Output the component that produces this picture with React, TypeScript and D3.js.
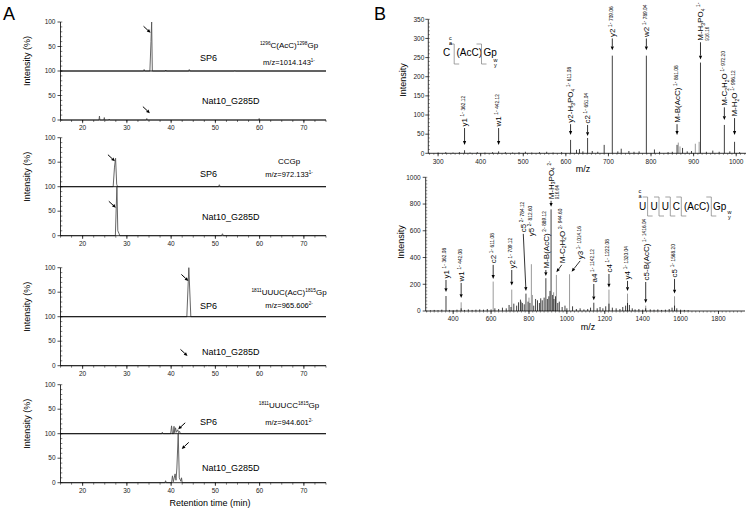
import React from 'react';
import * as d3 from 'd3';

const FONT = "'Liberation Sans', Arial, Helvetica, sans-serif";

// ================= Panel A data =================
const rtTicks = [20, 30, 40, 50, 60, 70];
const compoundLabels = ['^{1296}C(AcC)^{1298}Gp', 'CCGp', '^{1811}UUUC(AcC)^{1815}Gp', '^{1811}UUUCC^{1815}Gp'];
const mzLabels = ['m/z=1014.143^{1-}', 'm/z=972.133^{1-}', 'm/z=965.606^{2-}', 'm/z=944.601^{2-}'];
const upperSample = 'SP6';
const lowerSample = 'Nat10_G285D';

const sp6Trace1: [number, number][] = [[15, 0], [33.8, 0], [33.9, 3], [34.0, 0], [35.2, 0], [35.45, 60], [35.6, 100], [35.75, 0], [38.7, 0], [38.8, 2], [38.9, 0], [44.0, 0], [44.1, 3], [44.3, 0], [54.3, 0], [54.4, 1], [54.5, 0], [75, 0]];
const nat10Trace1: [number, number][] = [[15, 0], [23.7, 0], [23.8, 8], [23.9, 0], [24.8, 0], [24.9, 5], [25.0, 0], [25.9, 0], [26.0, 2], [26.1, 0], [34.4, 0], [34.5, 3], [34.6, 0], [59.8, 0], [59.9, 3], [60.0, 0], [75, 0]];
const sp6Trace2: [number, number][] = [[15, 0], [26.9, 0], [27.2, 40], [27.45, 58], [27.7, 5], [27.9, 0], [50.7, 0], [50.9, 4], [51.1, 0], [75, 0]];
const nat10Trace2: [number, number][] = [[15, 0], [27.4, 0], [27.6, 60], [27.75, 100], [27.95, 10], [28.2, 5], [28.4, 0], [51.4, 0], [51.6, 4], [51.8, 0], [75, 0]];
const sp6Trace3: [number, number][] = [[15, 0], [43.55, 0], [44.0, 100], [44.45, 0], [75, 0]];
const nat10Trace3: [number, number][] = [[15, 0], [44.5, 0], [44.6, 1], [44.7, 0], [48.1, 0], [48.2, 1], [48.3, 0], [75, 0]];
const sp6Trace4: [number, number][] = [[15, 0], [37.9, 0], [38.0, 3], [38.2, 0], [39.9, 0], [40.1, 16], [40.3, 0], [40.5, 0], [40.65, 15], [40.8, 2], [41.0, 12], [41.2, 3], [41.5, 8], [41.7, 2], [41.9, 5], [42.1, 0], [75, 0]];
const nat10Trace4: [number, number][] = [[15, 0], [38.6, 0], [38.75, 4], [38.9, 0], [40.1, 0], [40.3, 14], [40.5, 2], [40.9, 18], [41.1, 5], [41.3, 30], [41.6, 100], [41.85, 10], [42.2, 3], [42.35, 10], [42.5, 0], [75, 0]];
const sp6Traces = [sp6Trace1, sp6Trace2, sp6Trace3, sp6Trace4];
const nat10Traces = [nat10Trace1, nat10Trace2, nat10Trace3, nat10Trace4];
// arrow heads: [time, intensity, side (1 from left, -1 from right)]
const sp6Arrows: [number, number, number][] = [[35.35, 78, 1], [27.3, 52, 1], [43.9, 73, 1], [41.6, 9, -1]];
const nat10Arrows: [number, number, number][] = [[35.2, 14, 1], [27.5, 57, 1], [43.7, 20, 1], [42.4, 69, -1]];

// ================= Panel B data =================
const topMzTicks = [300, 400, 500, 600, 700, 800, 900, 1000];
const topIntTicks = [0, 50, 100, 150, 200, 250, 300, 350];
const topBlackPeaks: [number, number][] = [
  [300, 2], [318, 3], [335, 2], [350, 3], [362.12, 8], [375, 2], [392, 3], [410, 2], [428, 3], [442.12, 5], [458, 3], [475, 2], [490, 3], [505, 4], [520, 2], [538, 3], [555, 4], [570, 2], [590, 3],
  [611.08, 35], [625, 9], [632, 11], [640, 5], [651.04, 40], [662, 6], [675, 4], [690, 22], [709.06, 255], [722, 5], [730, 12], [748, 6], [760, 4], [772, 5],
  [789.04, 255], [808, 10], [820, 4], [840, 3], [850, 4], [861.08, 22], [874, 14], [885, 5], [895, 6], [916.16, 237], [930, 4], [945, 7], [960, 4], [972.2, 74], [985, 5], [996.12, 30], [1008, 3],
];
const topGrayPeaks: [number, number][] = [[864, 28], [868, 18], [904, 25], [913, 30]];
const topAnnotations = [
  { label: 'y1', z: '1-', mz: 362.12, tail: 66, head: 22 },
  { label: 'w1', z: '1-', mz: 442.12, tail: 66, head: 22 },
  { label: 'y2-H_{3}PO_{4}', z: '1-', mz: 611.08, tail: 76, head: 48 },
  { label: 'c2', z: '1-', mz: 651.04, tail: 74, head: 45 },
  { label: 'y2', z: '1-', mz: 709.06, tail: 300, head: 269 },
  { label: 'w2', z: '1-', mz: 789.04, tail: 300, head: 269 },
  { label: 'M-B(AcC)', z: '1-', mz: 861.08, tail: 76, head: 48 },
  { label: 'M-H_{3}PO_{4}', z: '1-', mz: 916.16, tail: 290, head: 245, line2: true },
  { label: 'M-C_{2}H_{2}O', z: '1-', mz: 972.2, tail: 120, head: 87 },
  { label: 'M-H_{2}O', z: '1-', mz: 996.12, tail: 92, head: 48 },
];

const botMzTicks = [400, 600, 800, 1000, 1200, 1400, 1600, 1800];
const botIntTicks = [0, 200, 400, 600, 800, 1000];
const botBlackPeaks: [number, number][] = [
  [280, 5], [300, 8], [320, 6], [340, 10], [362.08, 112], [380, 8], [400, 6], [420, 10], [442.08, 20], [460, 8], [480, 12], [500, 8], [520, 10], [540, 12], [560, 10], [580, 15], [600, 12],
  [620, 20], [640, 15], [660, 25], [680, 20], [695, 45], [705, 30], [720, 55], [735, 40], [745, 65], [755, 85], [765, 60], [775, 50], [784.12, 130], [795, 70], [805, 60], [825, 40],
  [835, 90], [845, 80], [855, 60], [862, 95], [870, 80], [880, 100], [889.12, 245], [897, 90], [905, 110], [911, 150], [916.64, 760], [925, 120], [932, 90], [940, 110], [952, 60],
  [960, 70], [975, 30], [990, 40], [1000, 20], [1030, 35], [1050, 15], [1070, 20], [1090, 12], [1110, 15], [1125, 25], [1142.12, 62], [1160, 20], [1175, 30], [1190, 20], [1205, 35],
  [1222.08, 55], [1240, 25], [1260, 20], [1280, 15], [1295, 30], [1310, 40], [1320.04, 60], [1330, 45], [1345, 20], [1360, 12], [1380, 15], [1400, 10], [1416.04, 20], [1440, 12],
  [1460, 10], [1480, 12], [1500, 8], [1520, 10], [1540, 15], [1555, 25], [1568.2, 40], [1580, 20], [1600, 10], [1620, 8], [1640, 6],
];
const botGrayPeaks: [number, number][] = [
  [442.08, 65], [611.08, 220], [709.12, 160], [760, 70], [800, 100], [812.6, 350], [818, 120], [930, 140], [944.6, 270], [1014.16, 275], [1222.08, 160], [1320.04, 130], [1416.04, 40], [1568.2, 110],
];
const botAnnotations = [
  { label: 'y1', z: '1-', mz: 362.08, tail: 232, head: 142 },
  { label: 'w1', z: '1-', mz: 442.08, tail: 210, head: 97 },
  { label: 'c2', z: '1-', mz: 611.08, tail: 345, head: 240 },
  { label: 'y2', z: '1-', mz: 709.12, tail: 307, head: 190 },
  { label: 'c5', z: '2-', mz: 784.12, tail: 577, head: 150, at: 770 },
  { label: 'y5', z: '2-', mz: 812.6, tail: 547, head: null as number | null },
  { label: 'M-B(AcC)', z: '2-', mz: 889.12, tail: 307, head: 262 },
  { label: 'M-H_{3}PO_{4}', z: '2-', mz: 916.64, tail: 824, head: 779, line2: true },
  { label: 'M-C_{2}H_{2}O', z: '2-', mz: 944.6, tail: 345, head: 290, at: 973 },
  { label: 'y3', z: '1-', mz: 1014.16, tail: 375, head: 294, at: 1070, headAt: 1025 },
  { label: 'a4', z: '1-', mz: 1142.12, tail: 202, head: 80 },
  { label: 'c4', z: '1-', mz: 1222.08, tail: 277, head: 175 },
  { label: 'y4', z: '1-', mz: 1320.04, tail: 225, head: 150 },
  { label: 'c5-B(AcC)', z: '1-', mz: 1416.04, tail: 217, head: 60 },
  { label: 'c5', z: '1-', mz: 1568.2, tail: 240, head: 130 },
];
const topResidues = ['C', '(AcC)', 'Gp'];
const botResidues = ['U', 'U', 'U', 'C', '(AcC)', 'Gp'];

// ================= helpers =================
function rich(text: string, fs: number) {
  const re = /([\^_~])\{([^}]*)\}|([^\^_~]+)/g;
  const out: any[] = [];
  let shift = 0;
  let m: RegExpExecArray | null;
  let k = 0;
  while ((m = re.exec(text)) !== null) {
    let target = 0, size = fs, content = m[3];
    if (m[1]) {
      content = m[2];
      if (m[1] === '^') { target = -fs * 0.38; size = fs * 0.6; }
      else if (m[1] === '_') { target = fs * 0.18; size = fs * 0.62; }
      else { target = -fs * 0.3; size = fs * 0.6; }
    }
    out.push(<tspan key={k++} dy={target - shift} fontSize={size}>{content}</tspan>);
    shift = target;
  }
  return out;
}

function Arrow({ x1, y1, x2, y2, len = 4, w = 3.2, sw = 0.9 }: any) {
  const dx = x2 - x1, dy = y2 - y1, L = Math.hypot(dx, dy) || 1;
  const ux = dx / L, uy = dy / L;
  const bx = x2 - ux * len, by = y2 - uy * len;
  const px = -uy, py = ux;
  return (
    <g>
      <line x1={x1} y1={y1} x2={bx} y2={by} stroke="#000" strokeWidth={sw} />
      <polygon points={`${x2},${y2} ${bx + (px * w) / 2},${by + (py * w) / 2} ${bx - (px * w) / 2},${by - (py * w) / 2}`} fill="#000" />
    </g>
  );
}

// ================= Panel A =================
const subTops = [22, 137.7, 267.7, 384.7];
const half = 49;
const compY = [23, 23, 24.3, 20.3];
const sp6Y = [36, 36.3, 38, 37];
const mzY = [40, 36.3, 38, 37.3];
const natY = [79, 79, 84, 83];

function SubPanel({ i }: { i: number }) {
  const T = subTops[i], M = T + half, Bt = T + 2 * half;
  const x = d3.scaleLinear().domain([15, 75]).range([60.5, 326]);
  const yUp = d3.scaleLinear().domain([0, 100]).range([M, T]);
  const yLo = d3.scaleLinear().domain([0, 100]).range([Bt, M]);
  const lineUp = d3.line<[number, number]>().x(d => x(d[0])).y(d => yUp(d[1]));
  const lineLo = d3.line<[number, number]>().x(d => x(d[0])).y(d => yLo(d[1]));
  const minorX = d3.range(15, 75.01, 2.5);
  const minorY = d3.range(0, 100.01, 10);
  const ax0 = x.range()[0], ax1 = x.range()[1];
  const fsT = 6.5;
  const a1 = sp6Arrows[i], a2 = nat10Arrows[i];
  const arr = (a: [number, number, number], ys: any) => {
    const hx = x(a[0]), hy = ys(a[1]);
    return <Arrow x1={hx - a[2] * 7} y1={hy - 6.5} x2={hx} y2={hy} len={3.6} w={3.4} sw={1} />;
  };
  return (
    <g>
      <path d={lineUp(sp6Traces[i]) || ''} fill="none" stroke="#555" strokeWidth={0.9} />
      <path d={lineLo(nat10Traces[i]) || ''} fill="none" stroke="#555" strokeWidth={0.9} />
      <line x1={ax0} x2={ax0} y1={T} y2={Bt} stroke="#000" strokeWidth={0.8} />
      <line x1={ax0} x2={ax1} y1={M} y2={M} stroke="#000" strokeWidth={0.9} />
      <line x1={ax0} x2={ax1} y1={Bt} y2={Bt} stroke="#000" strokeWidth={0.8} />
      {minorY.map(v => (
        <g key={'my' + v}>
          <line x1={ax0} x2={ax0 + 1.8} y1={yUp(v)} y2={yUp(v)} stroke="#000" strokeWidth={0.5} />
          <line x1={ax0} x2={ax0 + 1.8} y1={yLo(v)} y2={yLo(v)} stroke="#000" strokeWidth={0.5} />
        </g>
      ))}
      {[50, 100].map(v => (
        <g key={'u' + v}>
          <line x1={ax0 - 3} x2={ax0} y1={yUp(v)} y2={yUp(v)} stroke="#000" strokeWidth={0.7} />
          <text x={ax0 - 5} y={yUp(v) + fsT * 0.35} textAnchor="end" fontSize={fsT} fill="#222">{v}</text>
        </g>
      ))}
      {[0, 50, 100].map(v => (
        <g key={'l' + v}>
          <line x1={ax0 - 3} x2={ax0} y1={yLo(v)} y2={yLo(v)} stroke="#000" strokeWidth={0.7} />
          <text x={ax0 - 5} y={yLo(v) + fsT * 0.35} textAnchor="end" fontSize={fsT} fill="#222">{v}</text>
        </g>
      ))}
      {minorX.map(v => (
        <line key={'mx' + v} x1={x(v)} x2={x(v)} y1={Bt} y2={Bt + 2} stroke="#000" strokeWidth={0.5} />
      ))}
      {rtTicks.map(v => (
        <g key={'t' + v}>
          <line x1={x(v)} x2={x(v)} y1={Bt} y2={Bt + 3.2} stroke="#000" strokeWidth={0.7} />
          <text x={x(v)} y={Bt + 8 + fsT * 0.35} textAnchor="middle" fontSize={fsT} fill="#222">{v}</text>
        </g>
      ))}
      <text transform={`translate(${27 + 3.2},${T + 39}) rotate(-90)`} textAnchor="middle" fontSize={9} fill="#000">Intensity (%)</text>
      <text x={289} y={T + compY[i] + 2.8} textAnchor="middle" fontSize={8} fill="#000" style={{ whiteSpace: 'pre' }}>{rich(compoundLabels[i], 8)}</text>
      <text x={289} y={T + mzY[i] + 2.6} textAnchor="middle" fontSize={7.5} fill="#000" style={{ whiteSpace: 'pre' }}>{rich(mzLabels[i], 7.5)}</text>
      <text x={200} y={T + sp6Y[i] + 3.2} fontSize={9} fill="#000">{upperSample}</text>
      <text x={202} y={T + natY[i] + 3.2} fontSize={9} fill="#000">{lowerSample}</text>
      {arr(a1, yUp)}
      {arr(a2, yLo)}
    </g>
  );
}

// ================= Panel B =================
type Ann = { label: string; z: string; mz: number; tail: number; head: number | null; at?: number; headAt?: number; line2?: boolean };

function Spectrum(props: {
  xDomain: [number, number]; xRange: [number, number]; yDomain: [number, number]; yRange: [number, number];
  xTicks: number[]; yTicks: number[]; xMinor: number; yMinor: number;
  black: [number, number][]; gray: [number, number][]; anns: Ann[];
  yLabelPos: [number, number]; mzLabelPos: [number, number]; yLabelGap: number;
}) {
  const x = d3.scaleLinear().domain(props.xDomain).range(props.xRange);
  const y = d3.scaleLinear().domain(props.yDomain).range(props.yRange);
  const [x0, x1] = props.xRange;
  const y0 = props.yRange[0], yTop = props.yRange[1];
  const fsT = 6.5;
  const minorX = d3.range(Math.ceil(props.xDomain[0] / props.xMinor) * props.xMinor, props.xDomain[1], props.xMinor);
  const minorY = d3.range(props.yDomain[0], props.yDomain[1] + 0.01, props.yMinor);
  const fsA = 8;
  return (
    <g>
      {props.gray.map((p, k) => (
        <line key={'g' + k} x1={x(p[0])} x2={x(p[0])} y1={y0} y2={y(p[1])} stroke="#9a9a9a" strokeWidth={1} />
      ))}
      {props.black.map((p, k) => (
        <line key={'b' + k} x1={x(p[0])} x2={x(p[0])} y1={y0} y2={y(p[1])} stroke="#111" strokeWidth={0.8} />
      ))}
      <line x1={x0} x2={x0} y1={y0} y2={yTop} stroke="#000" strokeWidth={0.8} />
      <line x1={x0} x2={x1} y1={y0} y2={y0} stroke="#000" strokeWidth={0.8} />
      {minorY.map(v => (
        <line key={'my' + v} x1={x0} x2={x0 + 1.6} y1={y(v)} y2={y(v)} stroke="#000" strokeWidth={0.4} />
      ))}
      {props.yTicks.map(v => (
        <g key={'yt' + v}>
          <line x1={x0 - 3} x2={x0} y1={y(v)} y2={y(v)} stroke="#000" strokeWidth={0.7} />
          <text x={x0 - props.yLabelGap} y={y(v) + fsT * 0.35} textAnchor="end" fontSize={fsT} fill="#222">{v}</text>
        </g>
      ))}
      {minorX.map(v => (
        <line key={'mx' + v} x1={x(v)} x2={x(v)} y1={y0} y2={y0 + 1.6} stroke="#000" strokeWidth={0.4} />
      ))}
      {props.xTicks.map(v => (
        <g key={'xt' + v}>
          <line x1={x(v)} x2={x(v)} y1={y0} y2={y0 + 3} stroke="#000" strokeWidth={0.7} />
          <text x={x(v)} y={y0 + 8 + fsT * 0.35} textAnchor="middle" fontSize={fsT} fill="#222">{v}</text>
        </g>
      ))}
      <text transform={`translate(${props.yLabelPos[0] + 3.2},${props.yLabelPos[1]}) rotate(-90)`} textAnchor="middle" fontSize={9} fill="#000">Intensity</text>
      <text x={props.mzLabelPos[0]} y={props.mzLabelPos[1] + 3.2} textAnchor="middle" fontSize={9} fill="#000">m/z</text>
      {props.anns.map((a, k) => {
        const tx = x(a.at ?? a.mz);
        const ty = y(a.tail);
        const mzText = a.mz.toFixed(2);
        const main = a.line2 ? `${a.label}\u2009^{${a.z}}` : `${a.label}\u2009^{${a.z}}\u2009~{${mzText}}`;
        return (
          <g key={'a' + k}>
            <text transform={`translate(${tx + fsA * 0.36},${ty - 1.5}) rotate(-90)`} fontSize={fsA} fill="#000" style={{ whiteSpace: 'pre' }}>{rich(main, fsA)}</text>
            {a.line2 && (
              <text transform={`translate(${tx + fsA * 0.36 + 5.5},${ty - 1.5}) rotate(-90)`} fontSize={4.6} fill="#000">{mzText}</text>
            )}
            {a.head !== null && (
              <Arrow x1={tx} y1={ty} x2={x(a.headAt ?? a.mz)} y2={y(a.head)} len={3.8} w={3.2} sw={0.8} />
            )}
          </g>
        );
      })}
    </g>
  );
}

function Structure({ residues, xs, baseline, cuts, top, bottom, acX, wyX }: any) {
  return (
    <g>
      {residues.map((r: string, k: number) => (
        <text key={k} x={xs[k]} y={baseline} fontSize={10} fill="#000">{r}</text>
      ))}
      {cuts.map((c: number, k: number) => (
        <g key={'c' + k} stroke="#8a8a8a" strokeWidth={0.8} fill="none">
          <polyline points={`${c - 5},${top} ${c},${top} ${c},${bottom} ${c + 5},${bottom}`} />
        </g>
      ))}
      <text x={acX} y={top - 4} fontSize={5.5} fill="#000">c</text>
      <text x={acX} y={top + 1} fontSize={5.5} fill="#000">a</text>
      <text x={wyX} y={bottom - 2} fontSize={5.5} fill="#000">w</text>
      <text x={wyX + 0.5} y={bottom + 3} fontSize={5.5} fill="#000">y</text>
    </g>
  );
}

export default function App() {
  return (
    <svg width={750} height={511} viewBox="0 0 750 511" style={{ position: 'absolute', left: 0, top: 0, background: '#fff' }} fontFamily={FONT}>
      <rect x={0} y={0} width={750} height={511} fill="#fff" />
      <text x={3} y={20} fontSize={18} fill="#000">A</text>
      <text x={374} y={20} fontSize={18} fill="#000">B</text>
      {[0, 1, 2, 3].map(i => <SubPanel key={i} i={i} />)}
      <text x={210} y={502.7 + 3.2} textAnchor="middle" fontSize={9} fill="#000">Retention time (min)</text>

      <Spectrum xDomain={[277, 1023]} xRange={[428.3, 746]} yDomain={[0, 350]} yRange={[153.3, 19.3]}
        xTicks={topMzTicks} yTicks={topIntTicks} xMinor={10} yMinor={10}
        black={topBlackPeaks} gray={topGrayPeaks} anns={topAnnotations as Ann[]}
        yLabelPos={[403, 80]} mzLabelPos={[583, 169]} yLabelGap={4} />
      <Structure residues={topResidues} xs={[443, 456.5, 483.5]} baseline={56} cuts={[454.2, 481.5]} top={44} bottom={64} acX={449} wyX={493.5} />

      <Spectrum xDomain={[255, 1940]} xRange={[425.7, 745]} yDomain={[0, 1000]} yRange={[311, 177.3]}
        xTicks={botMzTicks} yTicks={botIntTicks} xMinor={20} yMinor={25}
        black={botBlackPeaks} gray={botGrayPeaks} anns={botAnnotations as Ann[]}
        yLabelPos={[400.7, 242]} mzLabelPos={[588, 327]} yLabelGap={5} />
      <Structure residues={botResidues} xs={[639, 650.5, 661.8, 672.8, 684, 713]} baseline={210} cuts={[647.6, 659, 670.3, 681.3, 711.3]} top={197} bottom={216} acX={638.5} wyX={727.5} />
    </svg>
  );
}
